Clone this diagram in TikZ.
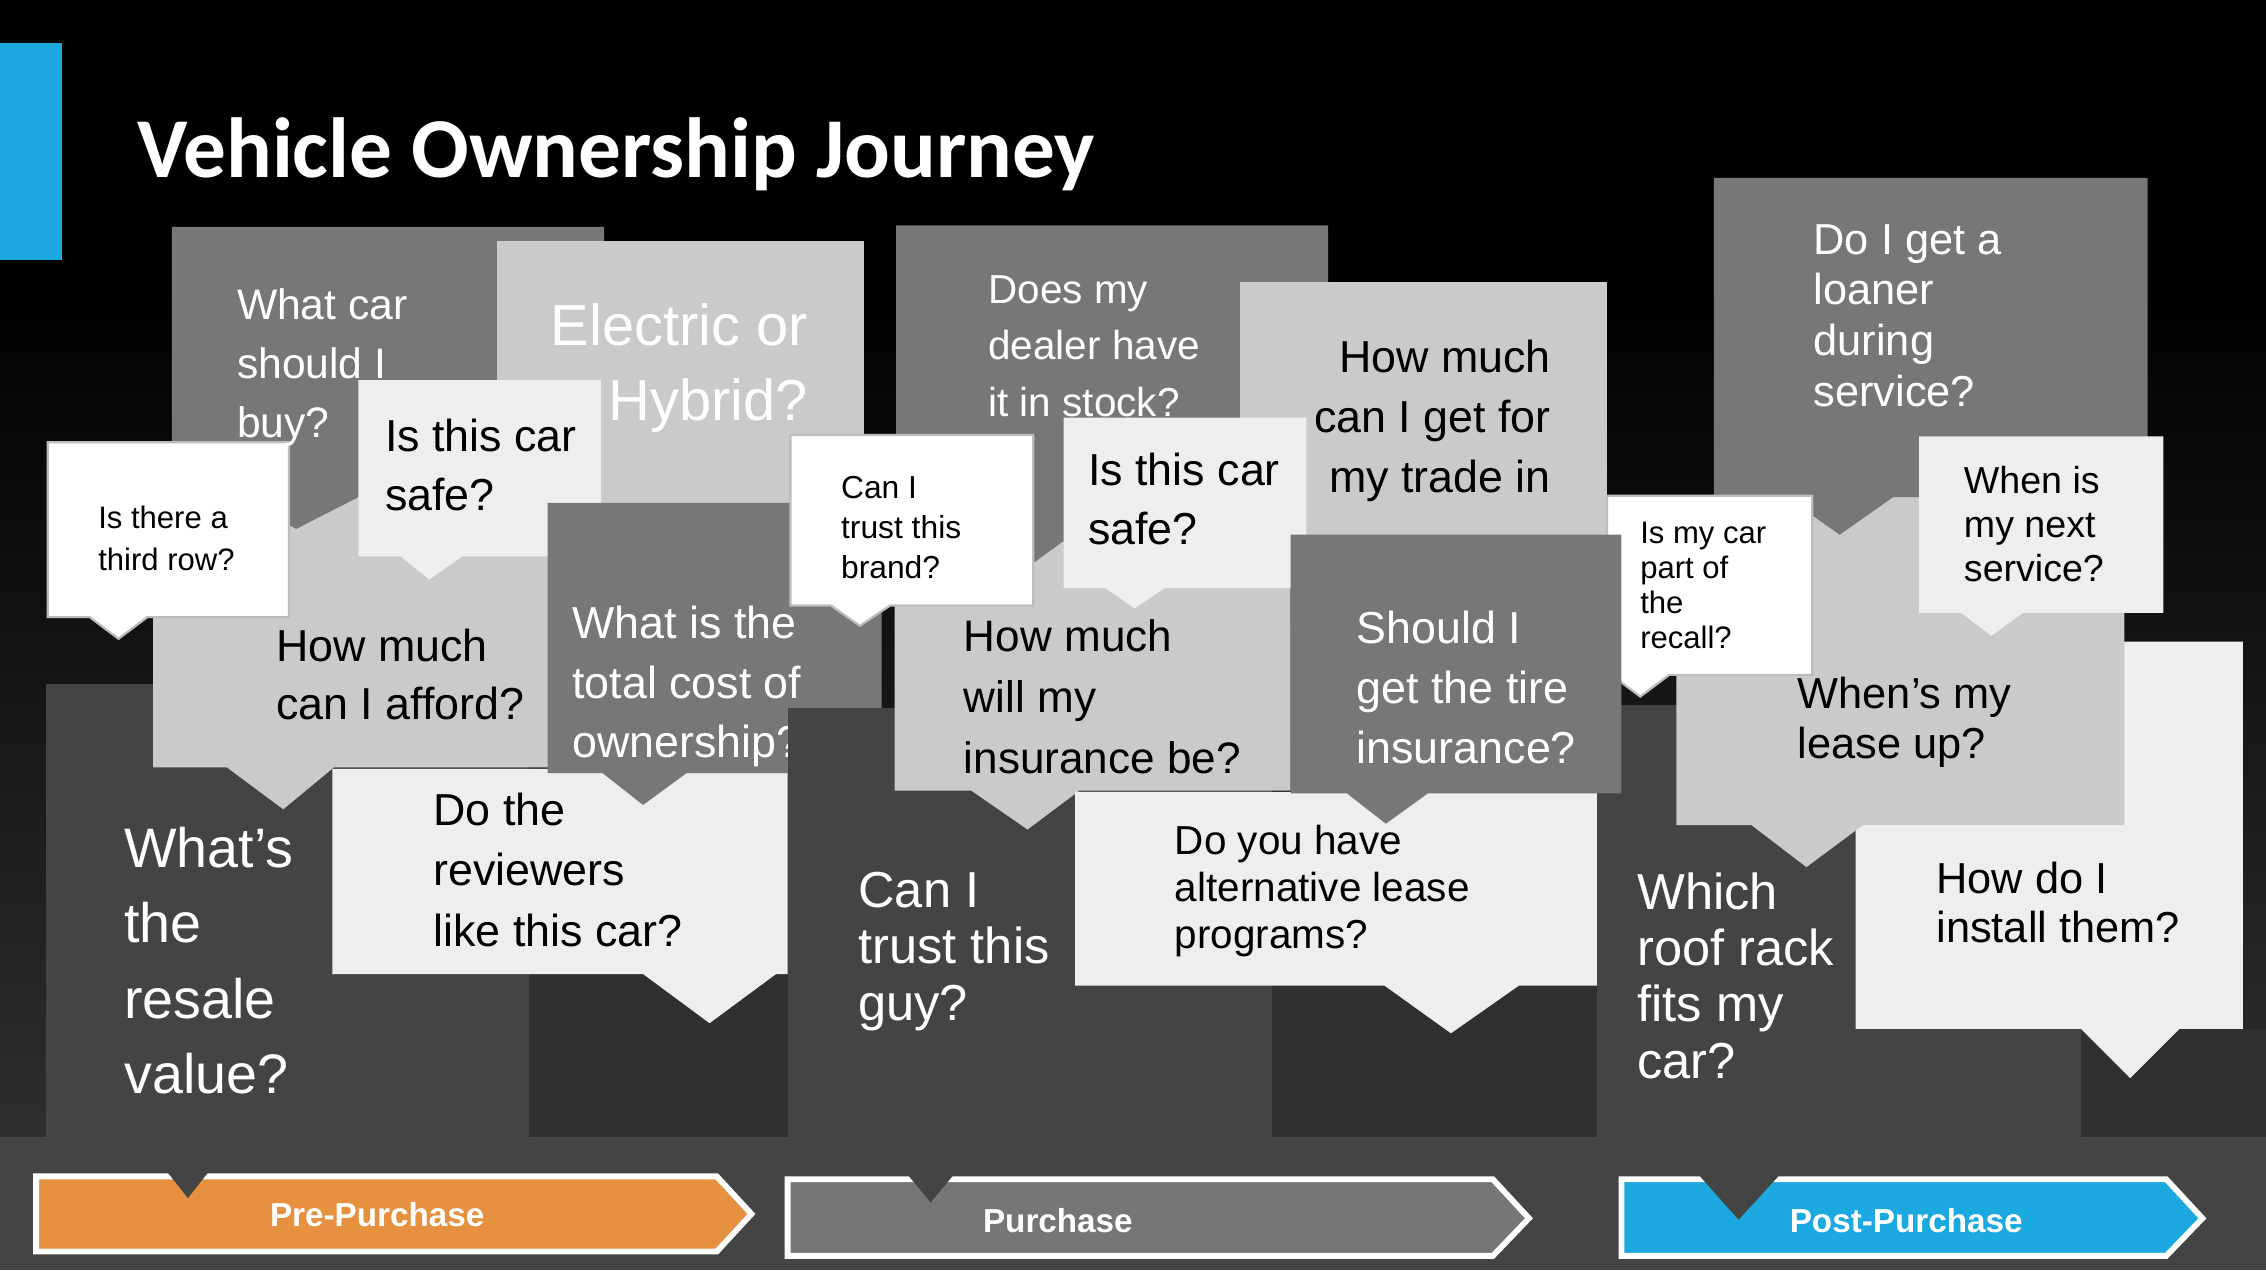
\documentclass[tikz,border=0pt]{standalone}
\usepackage{fontspec}
\setmainfont{Liberation Sans}
\newfontfamily\titlefont{Carlito}
\definecolor{mid}{HTML}{777777}
\definecolor{lgray}{HTML}{CACACA}
\definecolor{pale}{HTML}{EEEEEE}
\definecolor{dk}{HTML}{444444}
\definecolor{dker}{HTML}{303030}
\definecolor{bgbot}{HTML}{2E2E2E}
\definecolor{orng}{HTML}{E6913F}
\definecolor{cyanb}{HTML}{1BA9DF}
\definecolor{arrgray}{HTML}{767676}
\definecolor{brd}{HTML}{BDBDBD}
% bubble: style, x1, y1, x2, y2, pointer left, pointer right, tip x, tip y
\newcommand\bub[9]{\path[#1] (#2,#3) -- (#4,#3) -- (#4,#5) -- (#7,#5) -- (#8,#9) -- (#6,#5) -- (#2,#5) -- cycle;}
% text nodes are placed at the baseline of their LAST line
\tikzset{
  txt/.style={inner sep=0pt, outer sep=0pt, anchor=base west, align=left},
  txtr/.style={inner sep=0pt, outer sep=0pt, anchor=base east, align=right},
  wbox/.style={fill=white, draw=brd, line width=1.5pt},
  phase/.style={draw=white, line width=4pt, miter limit=10},
  plabel/.style={inner sep=0pt, anchor=base, text=white, font=\bfseries\fontsize{23}{26}\selectfont},
  notch/.style={fill=dk}
}
\begin{document}
\begin{tikzpicture}[x=1pt,y=-1pt]
\useasboundingbox (0,0) rectangle (1568,879);
% background
\fill[black] (0,0) rectangle (1568,879);
\shade[top color=black, bottom color=bgbot] (0,200) rectangle (1568,787);
\fill[dk] (0,787) rectangle (1568,879);
\fill[cyanb] (0,30) rectangle (43,180);
\node[txt, text=white, font=\titlefont\bfseries\fontsize{59}{62}\selectfont] (title) at (95,123) {Vehicle Ownership Journey};

% ---------- Pre-purchase ----------
\fill[dk] (32,473) rectangle (366,787);
\fill[dker] (366,500) rectangle (545,787);
\bub{fill=lgray}{106}{330}{400}{531}{157}{231}{196}{560}
\bub{fill=mid}{119}{157}{418}{344}{163}{248}{205}{366}
\fill[lgray] (344,167) rectangle (598,400);
\bub{fill=pale}{248}{263}{416}{385}{277}{320}{297}{401}
\bub{wbox}{33}{306}{200}{427}{62}{102}{82}{442}
\bub{fill=pale}{230}{532}{545}{674}{445}{537}{491}{708}
\bub{fill=mid}{379}{348}{610}{535}{417}{475}{445}{557}

\node[txt, text=white, font=\fontsize{29.5}{41}\selectfont] (qA) at (164,303) {What car\\should I\\buy?};
\node[txtr, text=white, font=\fontsize{40}{52}\selectfont] (qB) at (559,291) {Electric or\\Hybrid?};
\node[txt, text=black, font=\fontsize{31}{41}\selectfont] (qC) at (266.5,353.5) {Is this car\\safe?};
\node[txt, text=black, font=\fontsize{21.5}{29}\selectfont] (qD) at (68,395) {Is there a\\third row?};
\node[txt, text=black, font=\fontsize{31}{40}\selectfont] (qE) at (191,498) {How much\\can I afford?};
\node[txt, text=white, font=\fontsize{31}{41}\selectfont] (qF) at (396,524) {What is the\\total cost of\\ownership?};
\node[txt, text=white, font=\fontsize{38.5}{52}\selectfont] (qG) at (86,756.5) {What’s\\the\\resale\\value?};
\node[txt, text=black, font=\fontsize{31}{42}\selectfont] (qH) at (300,655) {Do the\\reviewers\\like this car?};

% ---------- Purchase ----------
\fill[dk] (545,490) rectangle (880,787);
\fill[dker] (880,600) rectangle (1105,787);
\bub{fill=lgray}{619}{375}{893}{547}{672}{747}{711}{574}
\bub{fill=mid}{620}{156}{919}{375}{668}{735}{698}{402}
\fill[lgray] (858,195) rectangle (1112,380);
\bub{fill=pale}{736}{289}{904}{407}{765}{806}{785}{421}
\bub{wbox}{547}{301}{715}{419}{575}{616}{595}{433}
\bub{fill=pale}{744}{548}{1112}{682}{958}{1051}{1004}{715}

% ---------- Post-purchase ----------
\fill[dk] (1105,488) rectangle (1440,787);
\fill[dker] (1440,712) rectangle (1568,787);
\bub{fill=pale}{1284}{444}{1552}{712}{1440}{1508}{1474}{746}
\bub{fill=lgray}{1160}{344}{1470}{571}{1212}{1289}{1250}{600}
\bub{fill=mid}{1186}{123}{1486}{344}{1236}{1310}{1273}{370}
\bub{wbox}{1112}{343}{1254}{467}{1115}{1155}{1135}{482}
\bub{fill=pale}{1328}{302}{1497}{424}{1357}{1400}{1378}{440}
% tire insurance bubble lies over the recall box
\bub{fill=mid}{893}{370}{1122}{549}{932}{988}{959}{570}

\node[txt, text=white, font=\fontsize{28}{39}\selectfont] (qI) at (684,288) {Does my\\dealer have\\it in stock?};
\node[txtr, text=black, font=\fontsize{31}{41.5}\selectfont] (qM) at (1073,341) {How much\\can I get for\\my trade in};
\node[txt, text=black, font=\fontsize{31}{41}\selectfont] (qC2) at (753,377) {Is this car\\safe?};
\node[txt, text=black, font=\fontsize{22}{28}\selectfont] (qBr) at (582,400.6) {Can I\\trust this\\brand?};
\node[txt, text=black, font=\fontsize{30.5}{42}\selectfont] (qJ) at (667,535) {How much\\will my\\insurance be?};
\node[txt, text=white, font=\fontsize{31}{41.5}\selectfont] (qN) at (938.8,528) {Should I\\get the tire\\insurance?};
\node[txt, text=black, font=\fontsize{28}{32.5}\selectfont] (qO) at (813,656) {Do you have\\alternative lease\\programs?};
\node[txt, text=white, font=\fontsize{35}{39}\selectfont] (qP) at (594,706) {Can I\\trust this\\guy?};

\node[txt, text=white, font=\fontsize{30}{35}\selectfont] (qK) at (1255,281) {Do I get a\\loaner\\during\\service?};
\node[txt, text=black, font=\fontsize{21.5}{24}\selectfont] (qR) at (1135,448.4) {Is my car\\part of\\the\\recall?};
\node[txt, text=black, font=\fontsize{26}{30.5}\selectfont] (qS) at (1359,402.7) {When is\\my next\\service?};
\node[txt, text=black, font=\fontsize{30}{34.5}\selectfont] (qL) at (1244,525) {When’s my\\lease up?};
\node[txt, text=black, font=\fontsize{30}{34}\selectfont] (qT) at (1340,652) {How do I\\install them?};
\node[txt, text=white, font=\fontsize{35}{39}\selectfont] (qQ) at (1133,746) {Which\\roof rack\\fits my\\car?};

% ---------- phase arrows ----------
\path[phase, fill=orng] (25,814) -- (496,814) -- (520,840) -- (496,866) -- (25,866) -- cycle;
\path[phase, fill=arrgray] (545,816) -- (1033,816) -- (1058,843) -- (1033,869) -- (545,869) -- cycle;
\path[phase, fill=cyanb] (1122,816) -- (1499,816) -- (1524,843) -- (1499,869) -- (1122,869) -- cycle;
\fill[notch] (111,805) -- (149,805) -- (130,829) -- cycle;
\fill[notch] (624,808) -- (664,808) -- (644,832) -- cycle;
\fill[notch] (1171,808) -- (1236,808) -- (1203,844) -- cycle;
\node[plabel] (lpre) at (261,849) {Pre-Purchase};
\node[plabel] (lpur) at (732,852.5) {Purchase};
\node[plabel] (lpost) at (1319,852.5) {Post-Purchase};
\end{tikzpicture}
\end{document}
